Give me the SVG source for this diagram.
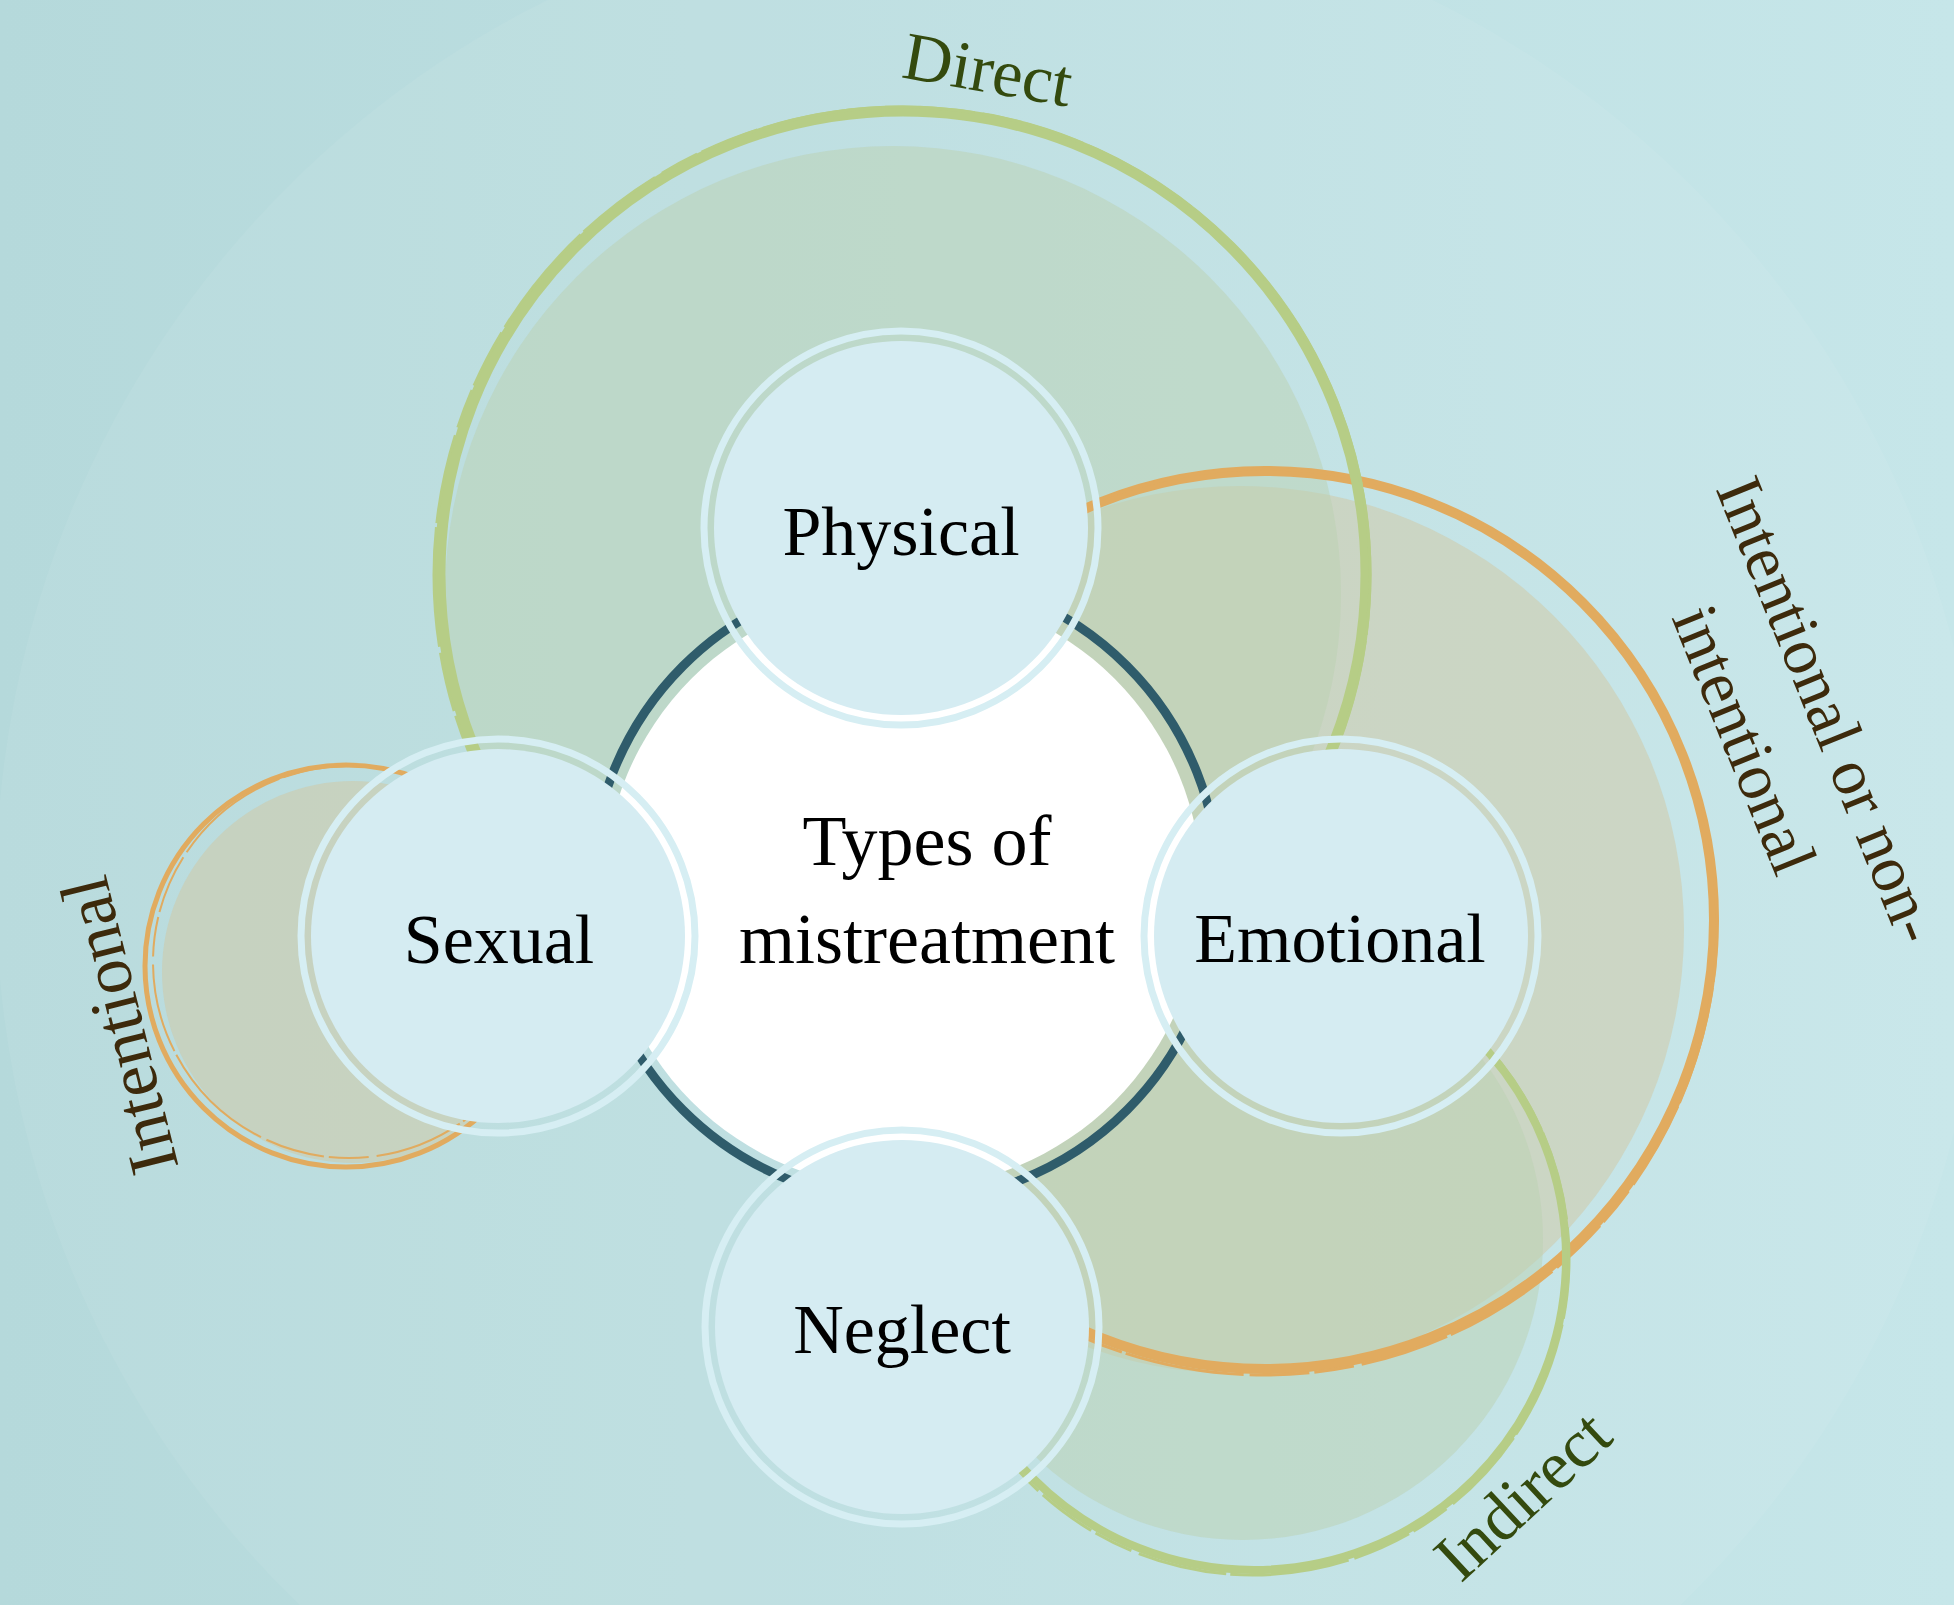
<svg xmlns="http://www.w3.org/2000/svg" width="1954" height="1605" viewBox="0 0 1954 1605">
  <defs>
    <linearGradient id="bgGrad" x1="0" y1="0" x2="1" y2="0">
      <stop offset="0" stop-color="#b5d9db"/>
      <stop offset="1" stop-color="#c6e6e9"/>
    </linearGradient>
    <style>
      .gfill { fill: #bcd2b2; fill-opacity: 0.5; }
      .ofill { fill: #d2c8a2; fill-opacity: 0.5; }
      .gring { fill: none; stroke: #b6cd86; }
      .oring { fill: none; stroke: #e1ab5f; }
      .brush { fill: none; stroke-dasharray: 60 6 120 4 90 8 40 5; }
      .nring { fill: none; stroke: #d6eef3; stroke-width: 7; }
      .nfill { fill: #d5ecf2; }
      .lbl { font-family: "Liberation Serif", "Times New Roman", serif; fill: #000000; text-anchor: middle; }
      .grn { font-family: "Liberation Serif", "Times New Roman", serif; fill: #344a0e; text-anchor: middle; font-size: 68px; }
      .brn { font-family: "Liberation Serif", "Times New Roman", serif; fill: #3d2a0c; text-anchor: middle; }
    </style>
  </defs>

  <rect x="0" y="0" width="1954" height="1605" fill="url(#bgGrad)"/>
  <circle cx="990" cy="890" r="994" fill="#ffffff" fill-opacity="0.06"/>

  <g id="connectors">
    <!-- tinted category fills -->
    <circle id="fill-intentional-non" class="ofill" cx="1240" cy="930" r="444"/>
    <circle id="fill-indirect" class="gfill" cx="1243" cy="1240" r="300"/>
    <circle id="fill-direct" class="gfill" cx="893" cy="594" r="448"/>
    <circle id="fill-intentional" class="ofill" cx="353" cy="972" r="191"/>

    <!-- brush rings -->
    <circle class="oring" cx="1265" cy="920" r="449" stroke-width="10"/>
    <circle class="oring brush" cx="1264" cy="922" r="453" stroke-width="3"/>
    <circle class="gring" cx="1254" cy="1258" r="312" stroke-width="8"/>
    <circle class="gring brush" cx="1253" cy="1259" r="316" stroke-width="3"/>
    <circle class="gring" cx="903" cy="574" r="463" stroke-width="11"/>
    <circle class="gring brush" cx="902" cy="575" r="468" stroke-width="3"/>
    <circle class="oring" cx="346" cy="966" r="201" stroke-width="5"/>
    <circle class="oring brush" cx="349" cy="962" r="196" stroke-width="2"/>

    <!-- central dark ring -->
    <circle cx="905" cy="888" r="314" fill="none" stroke="#2f5c6b" stroke-width="9"/>
  </g>

  <g id="center">
    <circle cx="903" cy="890" r="299" fill="#ffffff"/>
    <text class="lbl" font-size="72" x="927" y="865">Types of</text>
    <text class="lbl" font-size="72" x="927" y="963">mistreatment</text>
  </g>

  <g id="node-physical">
    <circle class="nfill" cx="901" cy="528" r="187"/>
    <circle class="nring" cx="901" cy="528" r="197"/>
    <text class="lbl" font-size="70" x="901" y="555">Physical</text>
  </g>
  <g id="node-sexual">
    <circle class="nfill" cx="498" cy="936" r="187"/>
    <circle class="nring" cx="498" cy="936" r="197"/>
    <text class="lbl" font-size="70" x="499" y="963">Sexual</text>
  </g>
  <g id="node-emotional">
    <circle class="nfill" cx="1341" cy="936" r="187"/>
    <circle class="nring" cx="1341" cy="936" r="197"/>
    <text class="lbl" font-size="70" x="1340" y="962">Emotional</text>
  </g>
  <g id="node-neglect">
    <circle class="nfill" cx="902" cy="1327" r="187"/>
    <circle class="nring" cx="902" cy="1327" r="197"/>
    <text class="lbl" font-size="70" x="902" y="1353">Neglect</text>
  </g>

  <g id="label-direct">
    <text class="grn" transform="translate(984 92) rotate(10)" x="0" y="0">Direct</text>
  </g>
  <g id="label-indirect">
    <text class="grn" transform="translate(1538 1512) rotate(-43)" x="0" y="0">Indirect</text>
  </g>
  <g id="label-intentional">
    <text class="brn" font-size="70" transform="translate(142 1020) rotate(-104)" x="0" y="0">Intentional</text>
  </g>
  <g id="label-intentional-or-non">
    <text class="brn" font-size="66" transform="translate(1808 718) rotate(68)" x="0" y="0">Intentional or non-</text>
    <text class="brn" font-size="66" transform="translate(1724 748) rotate(68)" x="0" y="0">intentional</text>
  </g>
</svg>
